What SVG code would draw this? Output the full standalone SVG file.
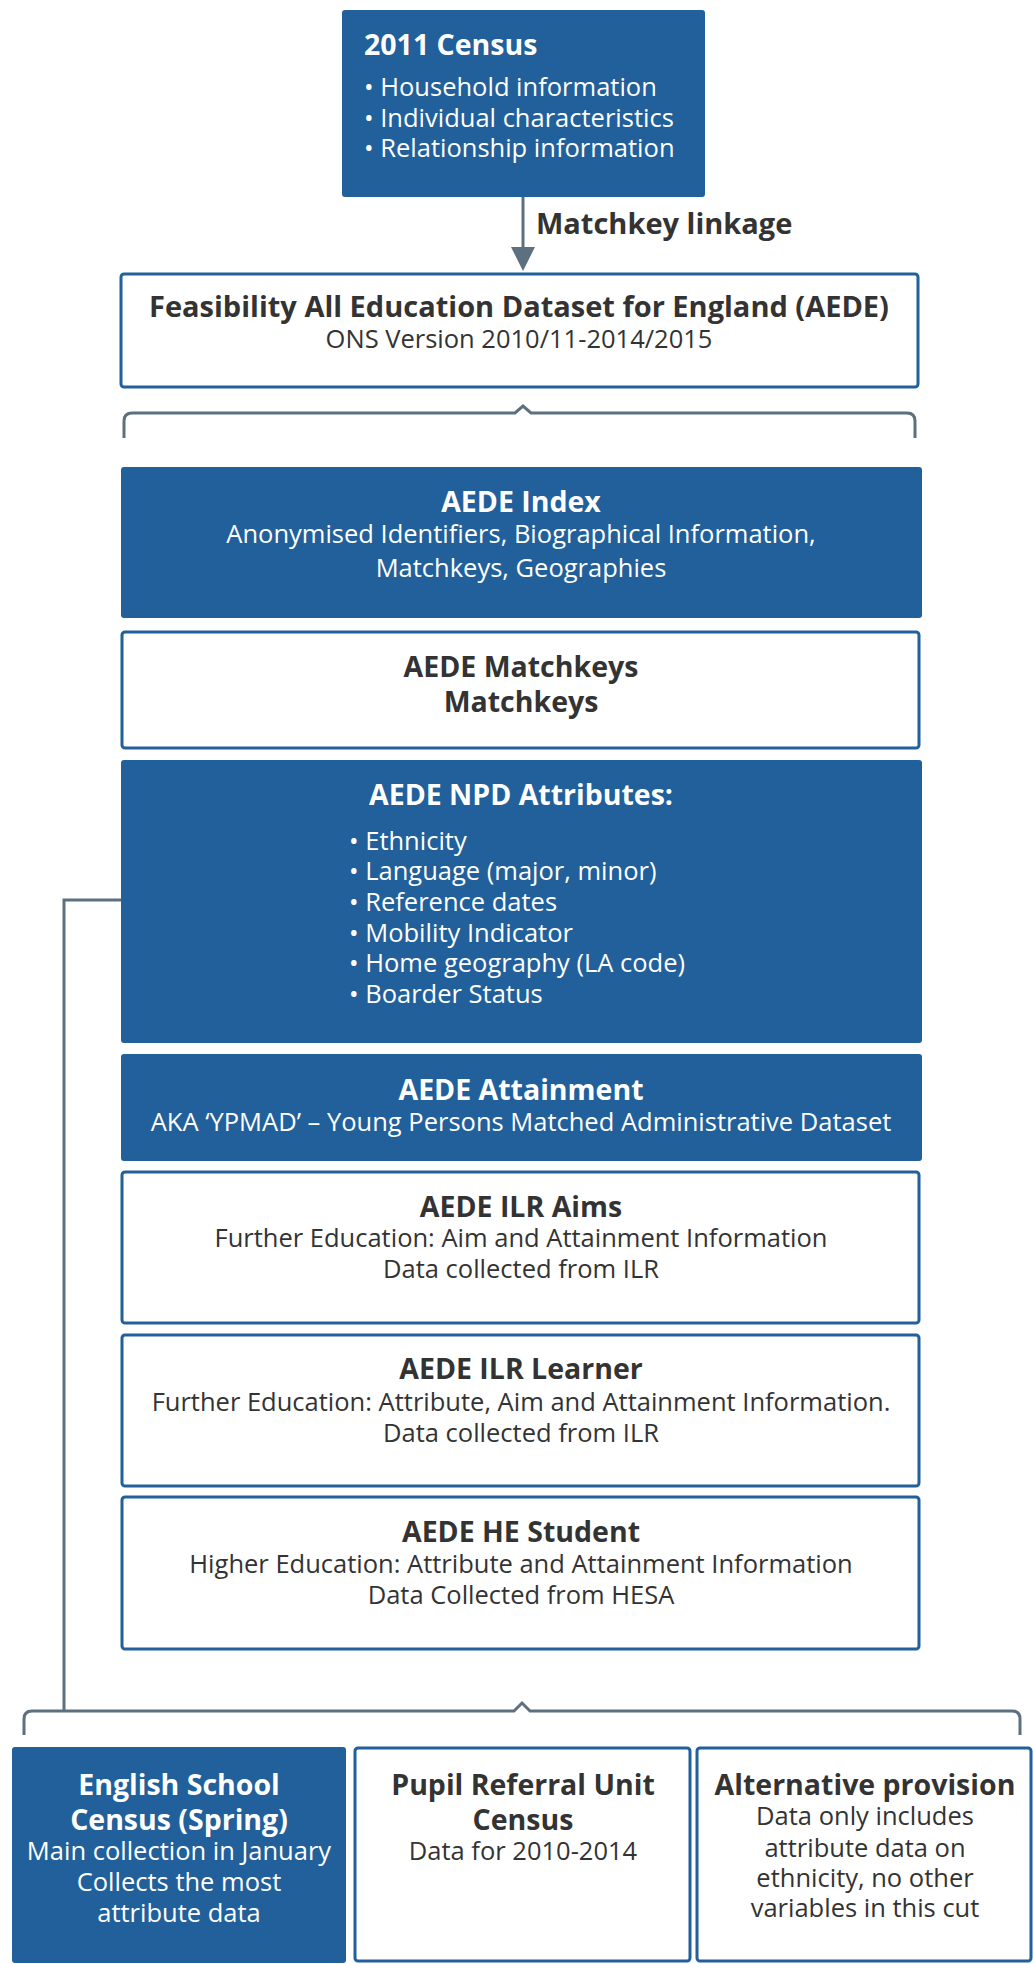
<svg xmlns="http://www.w3.org/2000/svg" width="1034" height="1964" viewBox="0 0 1034 1964">
  <style>
    .dark { fill: #21609a; }
    .light { fill: #ffffff; stroke: #21609a; stroke-width: 3; }
    text { font-family: "Open Sans", "Noto Sans", "Liberation Sans", sans-serif; }
    .t { font-size: 28.5px; font-weight: bold; }
    .b { font-size: 25.5px; }
    .w { fill: #ffffff; }
    .k { fill: #333333; }
    .c { text-anchor: middle; }
    .link { fill: none; stroke: #5d7080; stroke-width: 3; }
  </style>

  <!-- connectors -->
  <g id="connectors">
    <path class="link" d="M523,197 V252"/>
    <path d="M511,247 L535,247 L523,271 Z" fill="#5d7080"/>
    <text x="536" y="234" class="t k" style="font-size:29px">Matchkey linkage</text>
    <path class="link" d="M124,438 V421 Q124,413 132,413 H515 L523,406 L531,413 H907 Q915,413 915,421 V438"/>
    <path class="link" d="M121,900 H64 V1711"/>
    <path class="link" d="M24,1735 V1719 Q24,1711 32,1711 H514 L522,1703 L530,1711 H1012 Q1020,1711 1020,1719 V1735"/>
  </g>

  <g id="census">
    <rect class="dark" x="342" y="10" width="363" height="187" rx="3"/>
    <text x="364" y="55" class="t w">2011 Census</text>
    <text x="364" y="96" class="b w">• Household information</text>
    <text x="364" y="127" class="b w">• Individual characteristics</text>
    <text x="364" y="157" class="b w">• Relationship information</text>
  </g>

  <g id="aede">
    <rect class="light" x="121" y="274" width="797" height="113" rx="3"/>
    <text x="519" y="317" class="t k c" style="font-size:29px">Feasibility All Education Dataset for England (AEDE)</text>
    <text x="519" y="348" class="b k c">ONS Version 2010/11-2014/2015</text>
  </g>

  <g id="aede-index">
    <rect class="dark" x="121" y="467" width="801" height="151" rx="3"/>
    <text x="521" y="512" class="t w c">AEDE Index</text>
    <text x="521" y="543" class="b w c">Anonymised Identifiers, Biographical Information,</text>
    <text x="521" y="577" class="b w c">Matchkeys, Geographies</text>
  </g>

  <g id="aede-matchkeys">
    <rect class="light" x="122" y="632" width="797" height="116" rx="3"/>
    <text x="521" y="677" class="t k c">AEDE Matchkeys</text>
    <text x="521" y="712" class="t k c">Matchkeys</text>
  </g>

  <g id="aede-npd">
    <rect class="dark" x="121" y="760" width="801" height="283" rx="3"/>
    <text x="521" y="805" class="t w c">AEDE NPD Attributes:</text>
    <text x="349" y="850" class="b w">• Ethnicity</text>
    <text x="349" y="880" class="b w">• Language (major, minor)</text>
    <text x="349" y="911" class="b w">• Reference dates</text>
    <text x="349" y="942" class="b w">• Mobility Indicator</text>
    <text x="349" y="972" class="b w">• Home geography (LA code)</text>
    <text x="349" y="1003" class="b w">• Boarder Status</text>
  </g>

  <g id="aede-attainment">
    <rect class="dark" x="121" y="1054" width="801" height="107" rx="3"/>
    <text x="521" y="1100" class="t w c">AEDE Attainment</text>
    <text x="521" y="1131" class="b w c">AKA ‘YPMAD’ – Young Persons Matched Administrative Dataset</text>
  </g>

  <g id="aede-ilr-aims">
    <rect class="light" x="122" y="1172" width="797" height="151" rx="3"/>
    <text x="521" y="1217" class="t k c">AEDE ILR Aims</text>
    <text x="521" y="1247" class="b k c">Further Education: Aim and Attainment Information</text>
    <text x="521" y="1278" class="b k c">Data collected from ILR</text>
  </g>

  <g id="aede-ilr-learner">
    <rect class="light" x="122" y="1335" width="797" height="151" rx="3"/>
    <text x="521" y="1379" class="t k c">AEDE ILR Learner</text>
    <text x="521" y="1411" class="b k c">Further Education: Attribute, Aim and Attainment Information.</text>
    <text x="521" y="1442" class="b k c">Data collected from ILR</text>
  </g>

  <g id="aede-he-student">
    <rect class="light" x="122" y="1497" width="797" height="152" rx="3"/>
    <text x="521" y="1542" class="t k c">AEDE HE Student</text>
    <text x="521" y="1573" class="b k c">Higher Education: Attribute and Attainment Information</text>
    <text x="521" y="1604" class="b k c">Data Collected from HESA</text>
  </g>

  <g id="school-census">
    <rect class="dark" x="12" y="1747" width="334" height="216" rx="3"/>
    <text x="179" y="1795" class="t w c">English School</text>
    <text x="179" y="1830" class="t w c">Census (Spring)</text>
    <text x="179" y="1860" class="b w c">Main collection in January</text>
    <text x="179" y="1891" class="b w c">Collects the most</text>
    <text x="179" y="1922" class="b w c">attribute data</text>
  </g>

  <g id="pupil-referral">
    <rect class="light" x="355" y="1748" width="335" height="213" rx="3"/>
    <text x="523" y="1795" class="t k c">Pupil Referral Unit</text>
    <text x="523" y="1830" class="t k c">Census</text>
    <text x="523" y="1860" class="b k c">Data for 2010-2014</text>
  </g>

  <g id="alternative-provision">
    <rect class="light" x="697" y="1748" width="334" height="213" rx="3"/>
    <text x="865" y="1795" class="t k c">Alternative provision</text>
    <text x="865" y="1825" class="b k c">Data only includes</text>
    <text x="865" y="1857" class="b k c">attribute data on</text>
    <text x="865" y="1887" class="b k c">ethnicity, no other</text>
    <text x="865" y="1917" class="b k c">variables in this cut</text>
  </g>
</svg>
